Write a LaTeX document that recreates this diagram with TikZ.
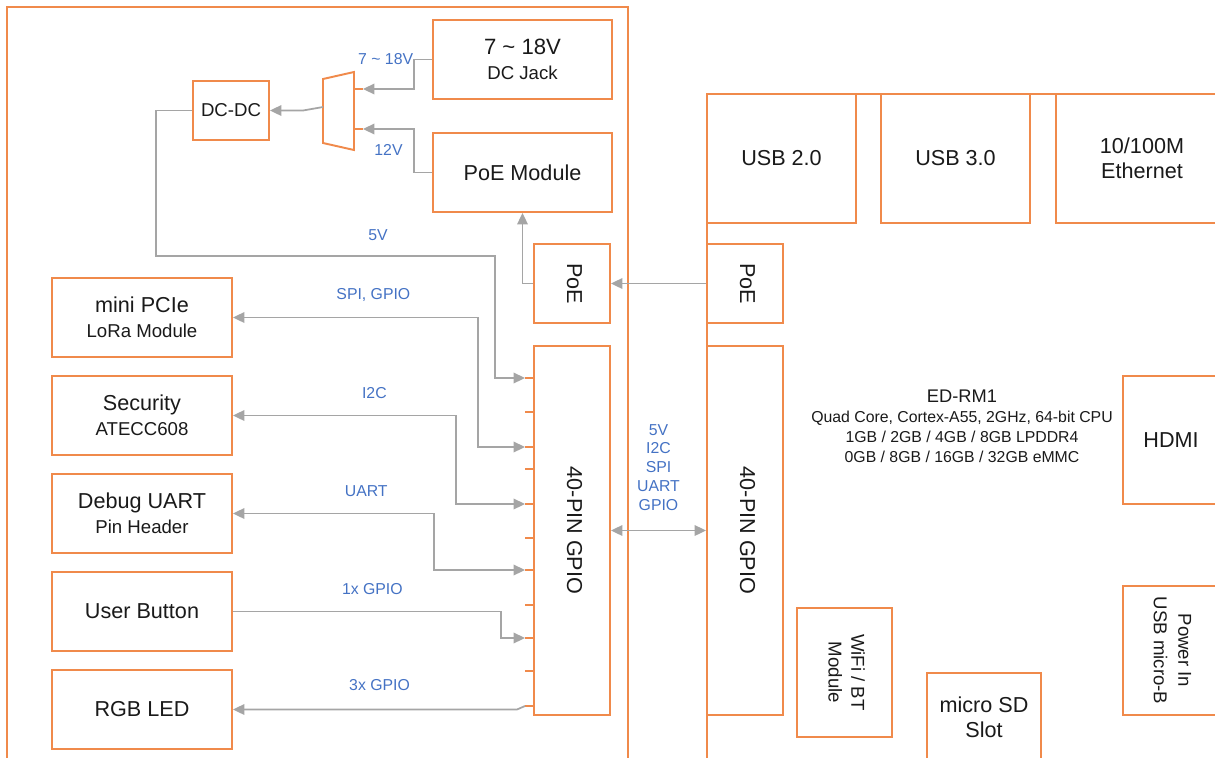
\documentclass[tikz,border=0pt]{standalone}
\usepackage{fontspec}
\setmainfont{Liberation Sans}
\usepackage{graphicx}
\usepackage{tikz}
\usetikzlibrary{arrows.meta}
\definecolor{ink}    {HTML}{1A1A1A}
\definecolor{board}  {HTML}{F08A4B}
\definecolor{wire}   {HTML}{A5A5A5}
\definecolor{signal} {HTML}{4472C4}
\newcommand{\mainsz}{\fontsize{12.3}{14}\selectfont}
\newcommand{\subsz}{\fontsize{10.6}{14}\selectfont}
\newcommand{\lblsz}{\fontsize{9}{10.7}\selectfont}
\newcommand{\downtext}[1]{\rotatebox{-90}{\begin{tabular}{@{}c@{}}#1\end{tabular}}}
\tikzset{
  >={Triangle[length=6.5pt,width=6pt]},
  every node/.style={text=ink},
  % --- nodes
  blk/.style     = {draw=board, line width=1.1pt, fill=white, align=center,
                    inner sep=0pt, font=\mainsz},
  sz/.style 2 args = {minimum width=#1*0.02cm, minimum height=#2*0.02cm},
  lbl/.style     = {font=\lblsz, text=signal, align=center, inner sep=0pt},
  % --- edges
  outline/.style = {draw=board, line width=1.1pt},
  e/.style       = {->, draw=wire, line width=1pt},
  ee/.style      = {<->, draw=wire, line width=1pt},
}

\begin{document}
\begin{tikzpicture}[x=0.02cm, y=-0.02cm]
  \useasboundingbox (0,0) rectangle (1215,758);
  \clip (0,0) rectangle (1215,758);
  % boards
  \draw[outline] (7,790) |- (628,7) -- (628,790);
  \draw[outline] (707,790) |- (1240,94);

  % carrier board
  \node[blk, sz={179}{79}] (jack) at (522.5,59.5)
    {{\fontsize{12.6}{14}\selectfont 7 \textasciitilde{} 18V}\\{\subsz DC Jack}};
  \node[blk, sz={179}{79}] (poemod) at (522.5,172.5) {PoE Module};
  \node[blk, sz={76}{59}, font=\subsz] (dcdc) at (231,110.5) {DC-DC};
  \node[blk, sz={76}{79}] (poeL) at (572,283.5) {\downtext{PoE}};
  \node[blk, sz={76}{369}] (gpioL) at (572,530.5) {\downtext{40-PIN GPIO}};
  \node[blk, sz={180}{79}] (pcie) at (142,317.5) {mini PCIe\\{\subsz LoRa Module}};
  \node[blk, sz={180}{79}] (sec) at (142,415.5) {Security\\{\subsz ATECC608}};
  \node[blk, sz={180}{79}] (uart) at (142,513.5) {Debug UART\\{\subsz Pin Header}};
  \node[blk, sz={180}{79}] (btn) at (142,611.5) {User Button};
  \node[blk, sz={180}{79}] (rgb) at (142,709.5) {RGB LED};

  % power selector
  \draw[outline] (323,79) -- (354,72) -- (354,150) -- (323,143) -- cycle;
  \draw[outline] (354,89) -- (363,89) coordinate (m1);
  \draw[outline] (354,129) -- (363,129) coordinate (m2);
  \coordinate (mout) at (323,107);

  % header pins
  \foreach \y [count=\i] in {378,412,447,469,504,538,570,605,638,671,706}
    \draw[outline] (534,\y) -- (525,\y) coordinate (p\i);

  % module
  \node[blk, sz={149}{129}] (usb2) at (781.5,158.5) {USB 2.0};
  \node[blk, sz={149}{129}] (usb3) at (955.5,158.5) {USB 3.0};
  \node[blk, sz={172}{129}] (eth) at (1142,158.5) {10/100M\\Ethernet};
  \node[blk, sz={76}{79}] (poeR) at (745,283.5) {\downtext{PoE}};
  \node[blk, sz={76}{369}] (gpioR) at (745,530.5) {\downtext{40-PIN GPIO}};
  \node[blk, sz={96}{128}] (hdmi) at (1171,440) {HDMI};
  \node[blk, sz={96}{129}, font=\fontsize{10.6}{14}\selectfont] (pwr) at (1171,650.5)
    {\downtext{Power In\\USB micro-B}};
  \node[blk, sz={95}{129}, font=\fontsize{10.6}{13}\selectfont] (wifi) at (844.5,672.5)
    {\downtext{WiFi / BT\\Module}};
  \node[blk, sz={114}{88}] (sd) at (984,717) {micro SD\\Slot};
  \node[align=center, font=\fontsize{9}{11.3}\selectfont] (cpu) at (962,426.5)
    {{\fontsize{10.4}{11.3}\selectfont ED-RM1}\\Quad Core, Cortex-A55, 2GHz, 64-bit CPU\\
     1GB / 2GB / 4GB / 8GB LPDDR4\\0GB / 8GB / 16GB / 32GB eMMC};

  % power path
  \draw[e] (jack.west) -- (414,59.5) node[lbl, anchor=east] {7 \textasciitilde{} 18V} |- (m1);
  \draw[e] (poemod.west) -- (414,172.5) |- node[lbl, pos=0.75, yshift=-12pt] {12V} (m2);
  \draw[e] (mout) -- (303,110.5) -- (dcdc.east);
  \draw[e] (dcdc.west) -- (156,110.5) -- (156,256)
    -- node[lbl, pos=0.655, yshift=12pt] {5V} (495,256) |- (p1);
  \draw[e] (poeL.west) -| (poemod.south);
  \draw[e] (poeR.west) -- (poeL.east);

  % header signals
  \draw[ee] (pcie.east) -- node[lbl, pos=0.573, yshift=13pt] {SPI, GPIO} (478,317.5) |- (p3);
  \draw[ee] (sec.east) -- node[lbl, pos=0.634, yshift=13pt] {I2C} (456,415.5) |- (p5);
  \draw[ee] (uart.east) -- node[lbl, pos=0.663, yshift=13pt] {UART} (434,513.5) |- (p7);
  \draw[e] (btn.east) -- node[lbl, pos=0.52, yshift=13pt] {1x GPIO} (501,611.5) |- (p9);
  \draw[e] (p11) -- (517,709.5) -- node[lbl, pos=0.484, yshift=14pt] {3x GPIO} (rgb.east);
  \draw[ee] (gpioL.east) -- node[lbl, yshift=36pt] {5V\\I2C\\SPI\\UART\\GPIO} (gpioR.west);
\end{tikzpicture}
\end{document}
